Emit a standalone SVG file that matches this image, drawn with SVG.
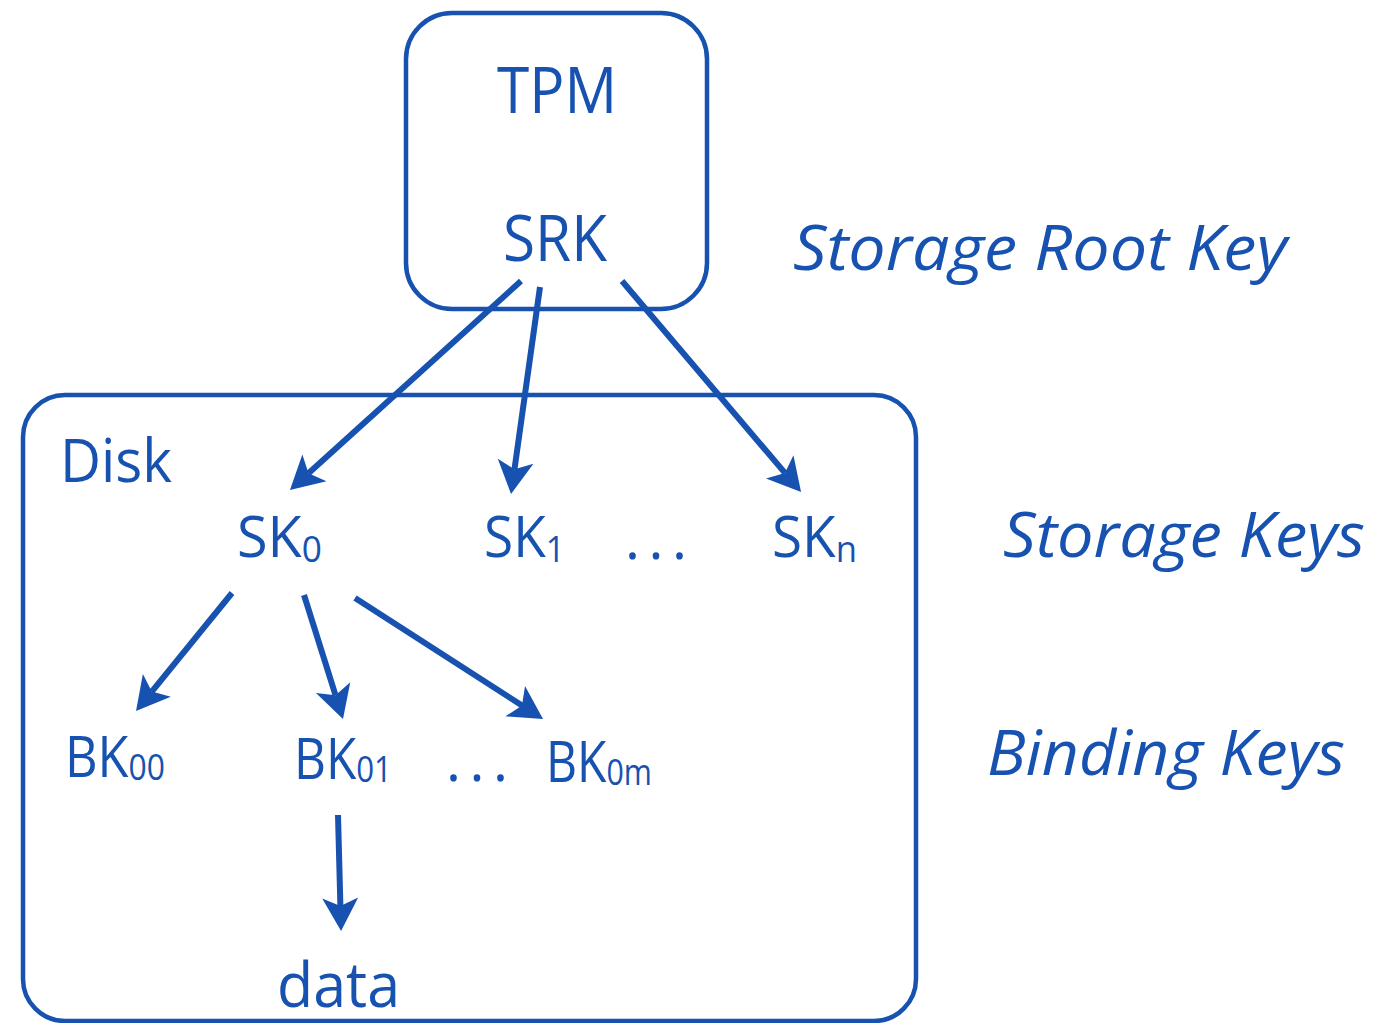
<svg xmlns="http://www.w3.org/2000/svg" width="1386" height="1023" viewBox="0 0 1386 1023">
<style>
.box{fill:none;stroke:#1752B0;stroke-width:4.5}
.t{fill:#1752B0;font-family:"Open Sans","DejaVu Sans",sans-serif}
.it{fill:#1752B0;font-family:"Open Sans","DejaVu Sans",sans-serif;font-style:italic}
.s{font-size:36px}
.c{fill:none;stroke:#1752B0;stroke-width:6;marker-end:url(#ah)}
</style>
<defs>
<marker id="ah" markerUnits="userSpaceOnUse" markerWidth="40" markerHeight="40" viewBox="-10 -20 40 40" refX="0" refY="0" orient="auto">
<path d="M25,0 L-8,-18 L0,0 L-8,18 Z" fill="#1752B0"/>
</marker>
</defs>
<rect width="1386" height="1023" fill="#fff"/>
<g id="tpm">
<rect class="box" x="406" y="13" width="301" height="296" rx="46"/>
<text class="t" x="497" y="113" font-size="64" textLength="120" lengthAdjust="spacingAndGlyphs">TPM</text>
</g>
<g id="srk">
<text class="t" x="503" y="261" font-size="64" textLength="104" lengthAdjust="spacingAndGlyphs">SRK</text>
</g>
<g id="label-srk">
<text class="it" x="793" y="270" font-size="62" textLength="494" lengthAdjust="spacingAndGlyphs">Storage Root Key</text>
</g>
<g id="disk">
<rect class="box" x="23" y="395" width="893" height="626" rx="42"/>
<text class="t" x="60" y="482" font-size="61" textLength="112" lengthAdjust="spacingAndGlyphs">Disk</text>
</g>
<g id="sk0">
<text class="t" x="237" y="557" font-size="57" textLength="85" lengthAdjust="spacingAndGlyphs">SK<tspan class="s" dy="5">0</tspan></text>
</g>
<g id="sk1">
<text class="t" x="484" y="557" font-size="57" textLength="81" lengthAdjust="spacingAndGlyphs">SK<tspan class="s" dy="5">1</tspan></text>
</g>
<g id="sk-dots">
<text class="t" x="625" y="559" font-size="57" textLength="62" lengthAdjust="spacing">...</text>
</g>
<g id="skn">
<text class="t" x="772" y="557" font-size="57" textLength="85" lengthAdjust="spacingAndGlyphs">SK<tspan class="s" dy="5">n</tspan></text>
</g>
<g id="label-sk">
<text class="it" x="1003" y="557" font-size="62" textLength="362" lengthAdjust="spacingAndGlyphs">Storage Keys</text>
</g>
<g id="bk00">
<text class="t" x="65" y="777" font-size="57" textLength="100" lengthAdjust="spacingAndGlyphs">BK<tspan class="s" dy="3">00</tspan></text>
</g>
<g id="bk01">
<text class="t" x="294" y="779" font-size="57" textLength="98" lengthAdjust="spacingAndGlyphs">BK<tspan class="s" dy="3">01</tspan></text>
</g>
<g id="bk-dots">
<text class="t" x="446" y="781" font-size="57" textLength="62" lengthAdjust="spacing">...</text>
</g>
<g id="bk0m">
<text class="t" x="546" y="782" font-size="57" textLength="106" lengthAdjust="spacingAndGlyphs">BK<tspan class="s" dy="3">0m</tspan></text>
</g>
<g id="label-bk">
<text class="it" x="987" y="775" font-size="62" textLength="358" lengthAdjust="spacingAndGlyphs">Binding Keys</text>
</g>
<g id="data">
<text class="t" x="277" y="1007" font-size="62" textLength="123" lengthAdjust="spacingAndGlyphs">data</text>
</g>
<g id="connectors">
<line class="c" x1="521" y1="281" x2="308.5" y2="473.2"/>
<line class="c" x1="540" y1="287" x2="514.5" y2="469.2"/>
<line class="c" x1="622" y1="281" x2="784.9" y2="472.9"/>
<line class="c" x1="232" y1="593" x2="151.8" y2="691.6"/>
<line class="c" x1="304" y1="595" x2="335.5" y2="695.2"/>
<line class="c" x1="355" y1="598" x2="522" y2="705.5"/>
<line class="c" x1="338" y1="815" x2="340.4" y2="906"/>
</g>
</svg>
